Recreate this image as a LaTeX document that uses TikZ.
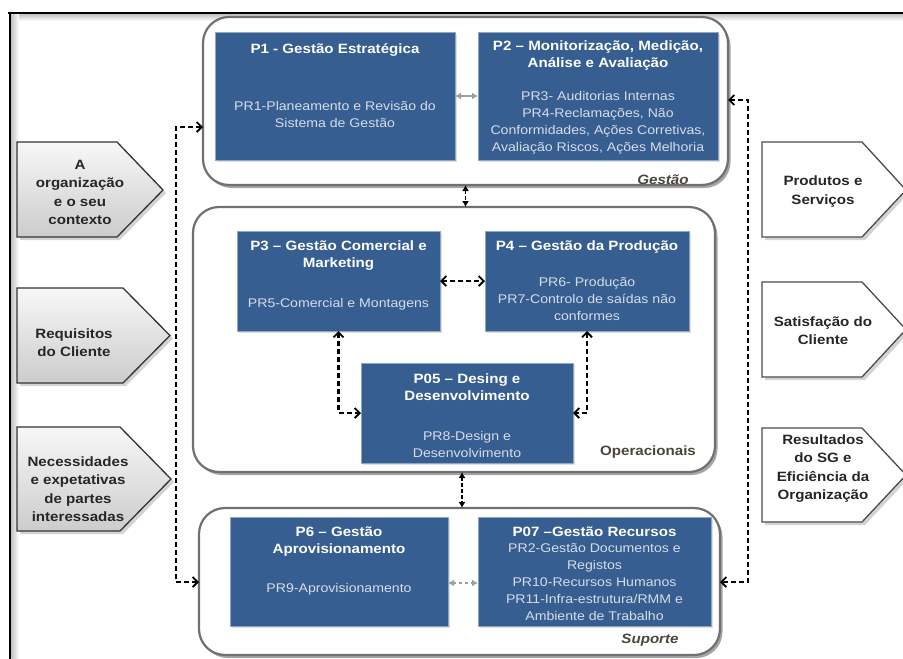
\documentclass[tikz,border=0pt]{standalone}
\usepackage{fontspec}
\setmainfont{Liberation Sans}[FakeStretch=1.12]
\usetikzlibrary{arrows.meta,shadows,calc}

\definecolor{procblue}{RGB}{54,94,145}
\definecolor{bodytxt}{RGB}{214,221,232}
\definecolor{grplabel}{RGB}{74,70,56}
\definecolor{grpborder}{RGB}{112,112,112}

\begin{document}
\begin{tikzpicture}[x=1pt,y=-1pt,
  >={Straight Barb[length=5pt,width=10pt,line width=1.8pt]},
  frameline/.style={line width=2.4pt, draw=black},
  group/.style={draw=grpborder, line width=2.2pt, fill=white, rounded corners=26pt,
    inner sep=0pt, outer sep=0pt,
    drop shadow={shadow xshift=2.5pt, shadow yshift=-3pt, opacity=0.5, fill=black!70}},
  procbox/.style={fill=procblue, draw=procblue!55!white, line width=0.6pt,
    inner sep=0pt, outer sep=0pt,
    drop shadow={shadow xshift=1.5pt, shadow yshift=-1.5pt, opacity=0.25}},
  ttl/.style={text=white, font=\fontsize{13.5}{17}\selectfont\bfseries, align=center, inner sep=0pt},
  bdy/.style={text=bodytxt, font=\fontsize{12.6}{17}\selectfont, align=center, inner sep=0pt},
  grouplabel/.style={text=grplabel, font=\fontsize{13.5}{16}\selectfont\bfseries\itshape, inner sep=0pt},
  inpent/.style={draw=black!80, line width=1.3pt, top color=gray!6, bottom color=gray!40,
    drop shadow={shadow xshift=3pt, shadow yshift=-3pt, opacity=0.35}},
  outpent/.style={draw=black!70, line width=1.3pt, fill=white,
    drop shadow={shadow xshift=3pt, shadow yshift=-3pt, opacity=0.35}},
  penttext/.style={text=black!85, font=\fontsize{13.5}{18.5}\selectfont\bfseries, align=center, inner sep=0pt},
  flow/.style={draw=black, line width=2.2pt, dash pattern=on 5pt off 3pt, <->},
  link/.style={draw=black, line width=1.6pt, dash pattern=on 4pt off 2pt,
    {Latex[length=6pt,width=7pt]}-{Latex[length=6pt,width=7pt]}},
  peer/.style={draw=gray!75, line width=1.4pt,
    {Latex[length=6pt,width=7pt]}-{Latex[length=6pt,width=7pt]}},
]
\useasboundingbox (0,0) rectangle (903,659);

% outer frame with its soft inner shade
\shade[top color=gray!45, bottom color=white] (11,14.5) rectangle (905,21);
\shade[left color=gray!45, right color=white] (11.5,14.5) rectangle (19,661);
\draw[frameline] (8,13) -- (905,13);
\draw[frameline] (10,13) -- (10,661);

% inputs (left)
\path[inpent] (17,142) -- (117,142) -- (163,190) -- (117,237) -- (17,237) -- cycle;
\path[inpent] (17,288) -- (123,288) -- (170,335.5) -- (123,383) -- (17,383) -- cycle;
\path[inpent] (17,427) -- (120,427) -- (171,479) -- (120,531) -- (17,531) -- cycle;
\node[penttext] (ctx) at (80,192.5) {A\\organização\\e o seu\\contexto};
\node[penttext] (req) at (74,342.5) {Requisitos\\do Cliente};
\node[penttext] (nec) at (78,489) {Necessidades\\e expetativas\\de partes\\interessadas};

% outputs (right)
\path[outpent] (762,142) -- (862,142) -- (906,190) -- (862,237) -- (762,237) -- cycle;
\path[outpent] (762,282) -- (862,282) -- (906,329.5) -- (862,377) -- (762,377) -- cycle;
\path[outpent] (762,428) -- (862,428) -- (906,475) -- (862,522) -- (762,522) -- cycle;
\node[penttext] (prod) at (823,191.5) {Produtos e\\Serviços};
\node[penttext] (sat) at (823,330.5) {Satisfação do\\Cliente};
\node[penttext] (res) at (823,468.5) {Resultados\\do SG e\\Eficiência da\\Organização};

% process groups
\node[group, minimum width=525pt, minimum height=168pt] (gest) at (465.5,101) {};
\node[group, minimum width=522pt, minimum height=265pt] (oper) at (454,339.5) {};
\node[group, minimum width=521pt, minimum height=147pt] (supo) at (459.5,581.5) {};
\node[grouplabel] (gestlbl) at (663,180) {Gestão};
\node[grouplabel, font=\fontsize{13.5}{16}\selectfont\bfseries] (operlbl) at (648,452) {Operacionais};
\node[grouplabel] (supolbl) at (650,640) {Suporte};

% process boxes
\node[procbox, minimum width=240pt, minimum height=128pt] (p1) at (335,96) {};
\node[procbox, minimum width=240pt, minimum height=128pt] (p2) at (598,96) {};
\node[procbox, minimum width=203pt, minimum height=100pt] (p3) at (338.5,281) {};
\node[procbox, minimum width=204pt, minimum height=100pt] (p4) at (587,281) {};
\node[procbox, minimum width=212pt, minimum height=100pt] (p05) at (467,413) {};
\node[procbox, minimum width=218pt, minimum height=109pt] (p6) at (339,571.5) {};
\node[procbox, minimum width=233pt, minimum height=109pt] (p7) at (594.5,571.5) {};

% box texts
\node[ttl] (p1t) at (335,50) {P1 - Gestão Estratégica};
\node[bdy] (p1b) at (335,114.5) {PR1-Planeamento e Revisão do\\Sistema de Gestão};

\node[ttl] (p2t) at (598,56) {P2 – Monitorização, Medição,\\Análise e Avaliação};
\node[bdy] (p2b) at (598,122.5) {PR3- Auditorias Internas\\PR4-Reclamações, Não\\Conformidades, Ações Corretivas,\\Avaliação Riscos, Ações Melhoria};

\node[ttl] (p3t) at (338.5,255.5) {P3 – Gestão Comercial e\\Marketing};
\node[bdy] (p3b) at (338.5,304) {PR5-Comercial e Montagens};

\node[ttl] (p4t) at (587,247) {P4 – Gestão da Produção};
\node[bdy] (p4b) at (587,298.5) {PR6- Produção\\PR7-Controlo de saídas não\\conformes};

\node[ttl] (p05t) at (467,387.5) {P05 – Desing e\\Desenvolvimento};
\node[bdy] (p05b) at (467,444.5) {PR8-Design e\\Desenvolvimento};

\node[ttl] (p6t) at (339,542) {P6 – Gestão\\Aprovisionamento};
\node[bdy] (p6b) at (339,589) {PR9-Aprovisionamento};

\node[ttl] (p7t) at (594.5,532) {P07 –Gestão Recursos};
\node[bdy] (p7b) at (594.5,582.5) {PR2-Gestão Documentos e\\Registos\\PR10-Recursos Humanos\\PR11-Infra-estrutura/RMM e\\Ambiente de Trabalho};

% connectors
\coordinate (lA) at (176,127);
\coordinate (lB) at (176,582);
\coordinate (rA) at (748,100);
\coordinate (rB) at (748,582);
\draw[flow] (lA -| gest.west) -- (lA) -- (lB) -- (lB -| supo.west);
\draw[flow] (rA -| gest.east) -- (rA) -- (rB) -- (rB -| supo.east);

\draw[peer] (p1.east) -- (p2.west);
\draw[peer, dash pattern=on 3pt off 3pt] ([yshift=-11.5pt]p6.east) -- ([yshift=-11.5pt]p7.west);

\draw[flow] (p3.east) -- (p4.west);
\draw[flow] (p3.south) |- (p05.west);
\draw[flow] (p4.south) |- (p05.east);

\draw[link] (gest.south) -- (gest.south |- oper.north);
\draw[link] ([xshift=8pt]oper.south) -- ([xshift=8pt]oper.south |- supo.north);
\end{tikzpicture}
\end{document}
